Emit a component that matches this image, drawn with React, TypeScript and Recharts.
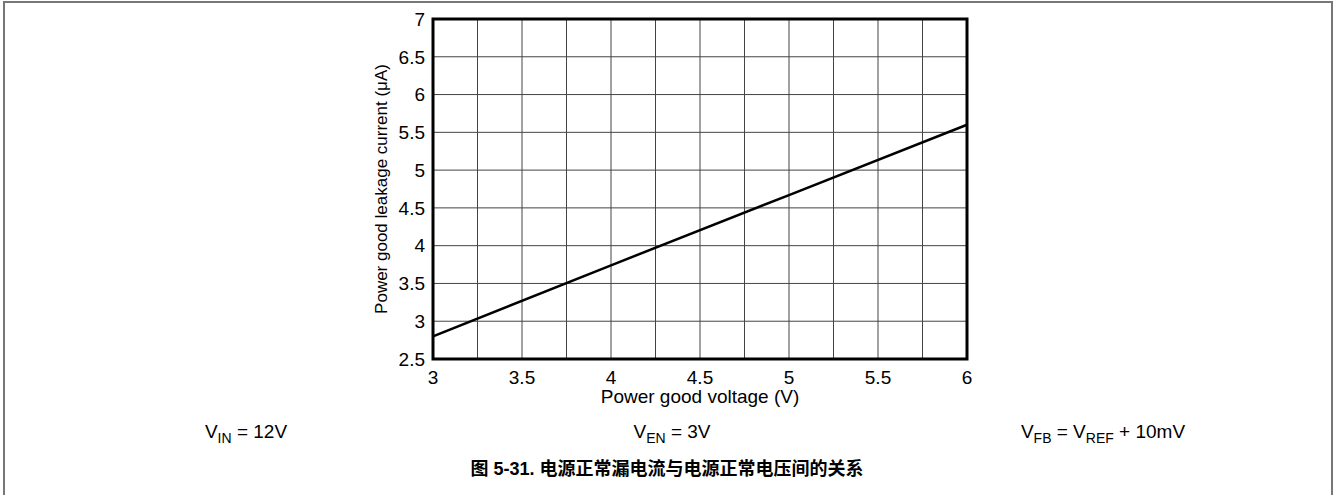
import React from 'react';
import { LineChart, Line, XAxis, YAxis, CartesianGrid, ReferenceArea, Label } from 'recharts';

// Power good voltage (V)
const voltage = [3, 4, 5, 6];
// Power good leakage current (uA)
const leakage = [2.8, 3.74, 4.67, 5.6];

const xTicks = [3, 3.25, 3.5, 3.75, 4, 4.25, 4.5, 4.75, 5, 5.25, 5.5, 5.75, 6];
const yTicks = [2.5, 3, 3.5, 4, 4.5, 5, 5.5, 6, 6.5, 7];

const data = voltage.map((v, i) => ({ v, i: leakage[i] }));

const FONT = '"Liberation Sans", Arial, Helvetica, sans-serif';

const fmtX = (t: number) => (Math.abs(t * 2 - Math.round(t * 2)) < 1e-6 ? String(t) : '');

const sub = { fontSize: 14 };
const frame = { position: 'absolute' as const, background: '#777', zIndex: 5 };

const App = () => {
  return (
    <div style={{ position: 'absolute', left: 0, top: 0, width: 1335, height: 495, background: '#fff', fontFamily: FONT, overflow: 'hidden' }}>
      <div style={{ position: 'absolute', left: 0, top: 0 }}>
        <LineChart
          width={1335}
          height={495}
          data={data}
          margin={{ top: 19, right: 368, bottom: 86, left: 373 }}
        >
          <CartesianGrid stroke="#444" strokeWidth={1} />
          <XAxis
            dataKey="v"
            type="number"
            domain={[3, 6]}
            ticks={xTicks}
            tickFormatter={fmtX}
            interval={0}
            axisLine={false}
            tickLine={false}
            height={50}
            tick={{ fontSize: 19, fill: '#000', fontFamily: FONT }}
            tickMargin={6}
          >
            <Label value="Power good voltage (V)" position="insideBottom" offset={6} style={{ fontSize: 19, fill: '#000', fontFamily: FONT }} />
          </XAxis>
          <YAxis
            type="number"
            domain={[2.5, 7]}
            ticks={yTicks}
            interval={0}
            axisLine={false}
            tickLine={false}
            width={60}
            tick={{ fontSize: 19, fill: '#000', fontFamily: FONT }}
            tickMargin={2}
          >
            <Label
              value="Power good leakage current (μA)"
              angle={-90}
              position="insideLeft"
              offset={8}
              style={{ textAnchor: 'middle', fontSize: 17, fill: '#000', fontFamily: FONT }}
            />
          </YAxis>
          <ReferenceArea x1={3} x2={6} y1={2.5} y2={7} fill="none" stroke="#000" strokeWidth={3} ifOverflow="visible" />
          <Line
            type="linear"
            dataKey="i"
            stroke="#000"
            strokeWidth={2.5}
            dot={false}
            isAnimationActive={false}
          />
        </LineChart>
      </div>
      <div style={{ ...frame, left: 3, top: 1, width: 1330, height: 2 }} />
      <div style={{ ...frame, left: 3, top: 1, width: 2, height: 494 }} />
      <div style={{ ...frame, left: 1331, top: 1, width: 2, height: 494 }} />
      <div style={{ position: 'absolute', left: 146, width: 200, top: 421, textAlign: 'center', fontSize: 19 }}>
        V<sub style={sub}>IN</sub> = 12V
      </div>
      <div style={{ position: 'absolute', left: 572, width: 200, top: 421, textAlign: 'center', fontSize: 19 }}>
        V<sub style={sub}>EN</sub> = 3V
      </div>
      <div style={{ position: 'absolute', left: 973, width: 260, top: 421, textAlign: 'center', fontSize: 19 }}>
        V<sub style={sub}>FB</sub> = V<sub style={sub}>REF</sub> + 10mV
      </div>
      <div
        style={{
          position: 'absolute',
          left: 317,
          width: 700,
          top: 454,
          textAlign: 'center',
          fontSize: 18,
          fontWeight: 'bold',
          fontFamily: '"Liberation Sans", "Noto Sans CJK SC", sans-serif',
        }}
      >
        图 5-31. 电源正常漏电流与电源正常电压间的关系
      </div>
    </div>
  );
};

export default App;
